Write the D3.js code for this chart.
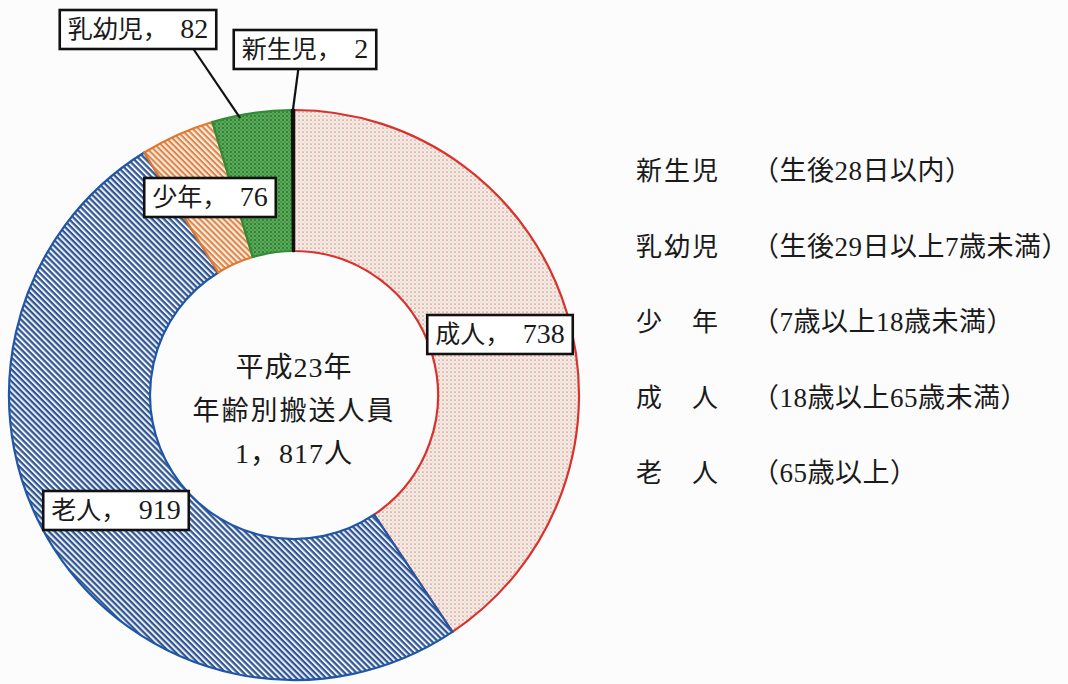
<!DOCTYPE html>
<html><head><meta charset="utf-8">
<script src="https://cdn.jsdelivr.net/npm/d3@7"></script>
<style>
body{margin:0;background:#fcfcfc;}
svg{display:block}
text{font-family:"Liberation Serif","Noto Sans CJK JP",serif;fill:#1a1a1a;white-space:pre}
</style>
</head><body>
<svg id="c" width="1068" height="684"></svg>
<script>
// ---- data ----
const categories = ["成人", "老人", "少年", "乳幼児", "新生児"];
const values = [738, 919, 76, 82, 2];
const centerTitle = ["平成23年", "年齢別搬送人員"];
const legendNames = ["新生児", "乳幼児", "少　年", "成　人", "老　人"];
const legendRanges = ["（生後28日以内）", "（生後29日以上7歳未満）", "（7歳以上18歳未満）", "（18歳以上65歳未満）", "（65歳以上）"];

// ---- layout / style ----
const cx = 294, cy = 395, R = 285, r0 = 144;
const strokeCols = {"成人":"#d8322c","老人":"#1f56a5","少年":"#e0772e","乳幼児":"#2f8c36","新生児":"#111"};
const labelLayout = {
  "成人":  {x:500, y:334},
  "老人":  {x:116, y:510},
  "少年":  {x:210, y:197},
  "乳幼児":{x:138, y:29, leadX:190, angle:-11},
  "新生児":{x:305, y:49, leadX:299, angle:-0.3}
};

const svg = d3.select("#c");
const defs = svg.append("defs");
// 成人: beige with red dots
let p = defs.append("pattern").attr("id","pAdult").attr("patternUnits","userSpaceOnUse").attr("width",4).attr("height",4);
p.append("rect").attr("width",4).attr("height",4).attr("fill","#f6ede7");
p.append("circle").attr("cx",1).attr("cy",1).attr("r",0.85).attr("fill","#cd9188");
p.append("circle").attr("cx",3).attr("cy",3).attr("r",0.6).attr("fill","#dbb0a7");
// 老人: blue hatching
p = defs.append("pattern").attr("id","pOld").attr("patternUnits","userSpaceOnUse").attr("width",4.2).attr("height",4.2).attr("patternTransform","rotate(45)");
p.append("rect").attr("width",4.2).attr("height",4.2).attr("fill","#eef1f8");
p.append("rect").attr("y",0).attr("width",4.2).attr("height",2.2).attr("fill","#2f5593");
// 少年: orange hatching
p = defs.append("pattern").attr("id","pYouth").attr("patternUnits","userSpaceOnUse").attr("width",4.2).attr("height",4.2).attr("patternTransform","rotate(45)");
p.append("rect").attr("width",4.2).attr("height",4.2).attr("fill","#fbeadd");
p.append("rect").attr("y",0).attr("width",4.2).attr("height",2).attr("fill","#dc8446");
// 乳幼児: green dotted
p = defs.append("pattern").attr("id","pInfant").attr("patternUnits","userSpaceOnUse").attr("width",4).attr("height",4);
p.append("rect").attr("width",4).attr("height",4).attr("fill","#5aab58");
p.append("circle").attr("cx",1).attr("cy",1).attr("r",1).attr("fill","#2a7230");
p.append("circle").attr("cx",3).attr("cy",3).attr("r",0.8).attr("fill","#357f38");
const fills = {"成人":"url(#pAdult)","老人":"url(#pOld)","少年":"url(#pYouth)","乳幼児":"url(#pInfant)","新生児":"#111"};

const data = categories.map((c,i)=>({name:c, value:values[i]}));
const pie = d3.pie().sort(null).value(d=>d.value);
const arc = d3.arc().innerRadius(r0).outerRadius(R);
const arcs = pie(data);

const g = svg.append("g").attr("transform",`translate(${cx},${cy})`);
g.selectAll("path.slice").data(arcs).join("path")
  .attr("class","slice")
  .attr("d",arc)
  .attr("fill",d=>fills[d.data.name])
  .attr("stroke",d=>strokeCols[d.data.name])
  .attr("stroke-width",d=>d.data.name==="新生児"?2.4:2.2)
  .attr("stroke-linejoin","round");

// center text
const total = d3.sum(values);
const totalStr = d3.format(",")(total).replace(",", "，") + "人";
const centerLines = [...centerTitle, totalStr];
svg.append("g").selectAll("text").data(centerLines).join("text")
  .attr("x",cx).attr("y",(d,i)=>cy-18+i*43)
  .attr("text-anchor","middle")
  .attr("font-size",(d,i)=>i===1?27:28)
  .attr("letter-spacing",(d,i)=>i===1?2:1)
  .text(d=>d);

// leader lines
const lg = svg.append("g");
arcs.forEach(a=>{
  const L = labelLayout[a.data.name];
  if (L.angle === undefined) return;
  const ang = L.angle*Math.PI/180;
  const ex = cx + (R-3)*Math.sin(ang), ey = cy - (R-3)*Math.cos(ang);
  lg.append("line").attr("class","lead")
    .attr("x1",L.leadX).attr("y1",L.y+15).attr("x2",ex).attr("y2",ey)
    .attr("stroke","#111").attr("stroke-width",2.2);
});

// labels
const labG = svg.append("g");
arcs.forEach(a=>{
  const L = labelLayout[a.data.name];
  const gg = labG.append("g");
  const rect = gg.append("rect");
  const t = gg.append("text").attr("x",L.x).attr("y",L.y+9).attr("text-anchor","middle")
    .attr("font-size",25);
  t.append("tspan").text(a.data.name + "，" + "\u2002");
  t.append("tspan").attr("font-size",28).text(a.data.value);
  const bb = t.node().getBBox();
  rect.attr("x",bb.x-8).attr("y",L.y-19).attr("width",bb.width+16).attr("height",39)
    .attr("fill","#fff").attr("stroke","#111").attr("stroke-width",2.6);
});

// legend
const leg = svg.append("g");
legendNames.forEach((n,i)=>{
  const y = 180 + i*75.5;
  leg.append("text").attr("x",636).attr("y",y).attr("font-size",26).attr("letter-spacing",2).text(n);
  leg.append("text").attr("x",752).attr("y",y).attr("font-size",27).attr("letter-spacing",0.5).text(legendRanges[i]);
});
</script>
</body></html>
